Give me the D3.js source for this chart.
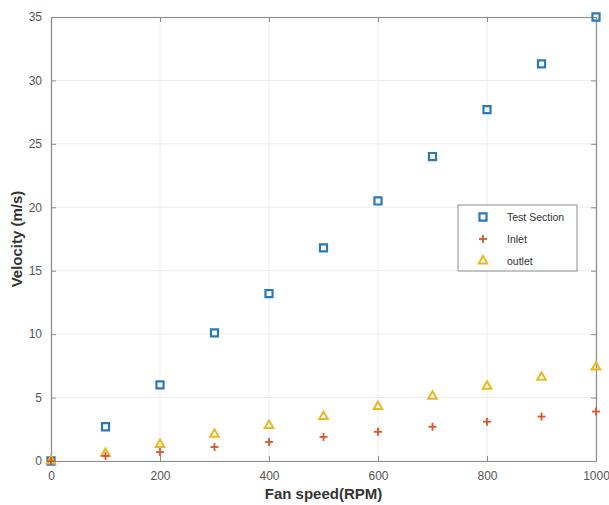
<!DOCTYPE html>
<html>
<head>
<meta charset="utf-8">
<script src="https://cdn.jsdelivr.net/npm/d3@7"></script>
<style>
  body { margin: 0; background: #fff; }
  text { font-family: "Liberation Sans", Arial, sans-serif; }
</style>
</head>
<body>
<div id="chart"></div>
<script>
// data
var speeds = [0, 100, 200, 300, 400, 500, 600, 700, 800, 900, 1000];
var testSection = [0, 2.7, 6.0, 10.1, 13.2, 16.8, 20.5, 24.0, 27.7, 31.3, 35.0];
var inlet = [0, 0.4, 0.7, 1.1, 1.5, 1.9, 2.3, 2.7, 3.1, 3.5, 3.9];
var outlet = [0, 0.6, 1.3, 2.1, 2.8, 3.5, 4.3, 5.1, 5.9, 6.6, 7.4];
var xTicks = [0, 200, 400, 600, 800, 1000];
var yTicks = [0, 5, 10, 15, 20, 25, 30, 35];

var svgWidth = 609;
var svgHeight = 505;
var margin = { top: 17, right: 13, bottom: 44, left: 51 };
var width = svgWidth - margin.left - margin.right;
var height = svgHeight - margin.top - margin.bottom;

var svg = d3.select("#chart").append("svg")
  .attr("width", svgWidth)
  .attr("height", svgHeight);

var chartGroup = svg.append("g")
  .attr("transform", `translate(${margin.left}, ${margin.top})`);

var xScale = d3.scaleLinear().domain([0, 1000]).range([0, width]);
var yScale = d3.scaleLinear().domain([0, 35]).range([height, 0]);

// grid
chartGroup.append("g").selectAll("line.gx")
  .data(xTicks).enter().append("line")
  .attr("x1", d => xScale(d)).attr("x2", d => xScale(d))
  .attr("y1", 0).attr("y2", height)
  .attr("stroke", "#ececec").attr("stroke-width", 1);
chartGroup.append("g").selectAll("line.gy")
  .data(yTicks).enter().append("line")
  .attr("x1", 0).attr("x2", width)
  .attr("y1", d => yScale(d)).attr("y2", d => yScale(d))
  .attr("stroke", "#ececec").attr("stroke-width", 1);

// axes (box style, ticks pointing inward)
function styleAxis(g) {
  g.select(".domain").attr("stroke", "#8c8c8c").attr("stroke-width", 1.2);
  g.selectAll(".tick line").attr("stroke", "#8c8c8c");
  g.selectAll(".tick text").attr("fill", "#555").attr("font-size", "12px");
}

chartGroup.append("g")
  .attr("transform", `translate(0, ${height})`)
  .call(d3.axisBottom(xScale).tickValues(xTicks).tickFormat(d3.format("d")).tickSizeInner(-5).tickSizeOuter(0).tickPadding(10))
  .call(styleAxis);
chartGroup.append("g")
  .call(d3.axisTop(xScale).tickValues(xTicks).tickSizeInner(-5).tickSizeOuter(0).tickFormat(""))
  .call(styleAxis);
chartGroup.append("g")
  .call(d3.axisLeft(yScale).tickValues(yTicks).tickSizeInner(-5).tickSizeOuter(0).tickPadding(9))
  .call(styleAxis);
chartGroup.append("g")
  .attr("transform", `translate(${width}, 0)`)
  .call(d3.axisRight(yScale).tickValues(yTicks).tickSizeInner(-5).tickSizeOuter(0).tickFormat(""))
  .call(styleAxis);

var blue = "#2a7ab8", orange = "#d9562a", yellow = "#e8b923";

var squareSym = d3.symbol().type(d3.symbolSquare).size(50);
var triSym = d3.symbol().type(d3.symbolTriangle).size(32);

// Test Section squares
chartGroup.append("g").selectAll("path")
  .data(speeds).enter().append("path")
  .attr("d", squareSym)
  .attr("transform", (d, i) => `translate(${xScale(d)}, ${yScale(testSection[i])})`)
  .attr("fill", "none").attr("stroke", blue).attr("stroke-width", 2.2);

// outlet triangles
chartGroup.append("g").selectAll("path")
  .data(speeds).enter().append("path")
  .attr("d", triSym)
  .attr("transform", (d, i) => `translate(${xScale(d)}, ${yScale(outlet[i])})`)
  .attr("fill", "none").attr("stroke", yellow).attr("stroke-width", 2);

// inlet plus markers
function plus(sel, size) {
  sel.append("line").attr("x1", -size).attr("x2", size).attr("y1", 0).attr("y2", 0);
  sel.append("line").attr("x1", 0).attr("x2", 0).attr("y1", -size).attr("y2", size);
}
chartGroup.append("g").selectAll("g")
  .data(speeds).enter().append("g")
  .attr("transform", (d, i) => `translate(${xScale(d)}, ${yScale(inlet[i])})`)
  .attr("stroke", orange).attr("stroke-width", 1.8)
  .each(function() { plus(d3.select(this), 4); });

// axis labels
svg.append("text")
  .attr("x", margin.left + width / 2).attr("y", 499)
  .attr("text-anchor", "middle")
  .attr("font-size", "15px").attr("font-weight", "bold").attr("fill", "#333")
  .text("Fan speed(RPM)");
svg.append("text")
  .attr("transform", `translate(22, ${margin.top + height / 2}) rotate(-90)`)
  .attr("text-anchor", "middle")
  .attr("font-size", "15px").attr("font-weight", "bold").attr("fill", "#333")
  .text("Velocity (m/s)");

// legend
var legend = svg.append("g").attr("transform", "translate(458, 205)");
legend.append("rect")
  .attr("width", 119).attr("height", 66)
  .attr("fill", "#fff").attr("stroke", "#8c8c8c").attr("stroke-width", 1);

var legendItems = ["Test Section", "Inlet", "outlet"];
legendItems.forEach(function(name, i) {
  var y = 12 + i * 22;
  var m = legend.append("g").attr("transform", `translate(25, ${y})`);
  if (i === 0) {
    m.append("path").attr("d", squareSym).attr("fill", "none").attr("stroke", blue).attr("stroke-width", 2.2);
  } else if (i === 1) {
    m.attr("stroke", orange).attr("stroke-width", 1.8);
    plus(m, 4);
  } else {
    m.append("path").attr("d", triSym).attr("fill", "none").attr("stroke", yellow).attr("stroke-width", 2);
  }
  legend.append("text")
    .attr("x", 49).attr("y", y + 4)
    .attr("font-size", "10.5px").attr("fill", "#333")
    .text(name);
});
</script>
</body>
</html>
